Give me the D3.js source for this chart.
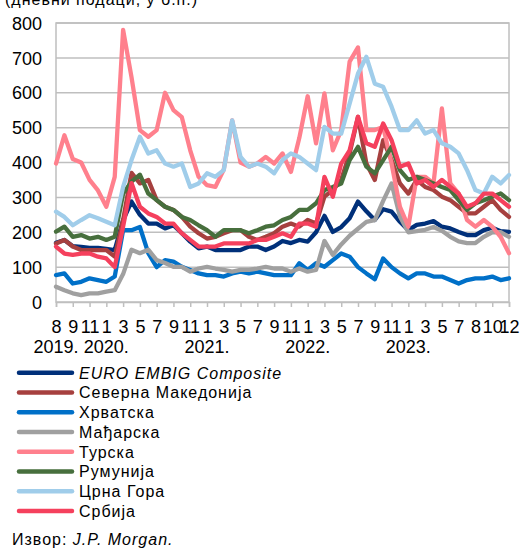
<!DOCTYPE html>
<html>
<head>
<meta charset="utf-8">
<script src="https://cdn.jsdelivr.net/npm/d3@7/dist/d3.min.js"></script>
<style>
  html, body { margin: 0; padding: 0; background: #fff; }
  svg { display: block; font-family: "Liberation Sans", Arial, sans-serif; }
</style>
</head>
<body>
<svg id="chart" width="521" height="549"></svg>
<script>
// x positions are in axis-tick units (28 ticks, 0..27), sampled every half tick
const positions = d3.range(0, 27.001, 0.5);

const monthLabels = ["8","9","11","1","3","5","7","9","11","1","3","5","7","9","11","1","3","5","7","9","11","1","3","5","7","8","10","12"];
const yearLabels = ["2019.", "2020.", "2021.", "2022.", "2023."];
const yearTickIndex = [0, 3, 9, 15, 21];
const yTicks = [0, 100, 200, 300, 400, 500, 600, 700, 800];

const seriesNames = ["EURO EMBIG Composite", "Северна Македонија", "Хрватска", "Мађарска", "Турска", "Румунија", "Црна Гора", "Србија"];
const seriesColors = ["#00307A", "#A6403F", "#0070C8", "#A0A0A0", "#FF808D", "#476F3D", "#A0CDEA", "#F5405D"];

const embig = [170,178,160,158,155,155,152,149, 235,288,250,225,225,211,
  220,197,173,154,159,149,149,149,149,159,159,149,159,175,
  169,178,173,200,247,201,215,240,288,260,235,266,259,
  230,206,221,225,232,216,211,201,192,192,206,213,203,201];
const macedonia = [168,178,159,149,149,149,149,130, 235,370,340,350,292,273,
  264,244,216,197,182,187,197,206,206,187,178,187,197,216,
  225,216,235,225,302,321,350,426,531,397,350,464,407,
  340,311,350,330,321,302,292,273,254,254,273,292,264,244];
const croatia = [77,82,53,58,68,63,58,73, 206,206,215,140,100,120,
  116,101,92,82,77,77,73,82,87,82,87,82,77,77,
  77,111,92,111,101,120,139,130,100,82,65,125,100,
  82,68,82,82,73,73,63,53,63,68,68,73,63,68];
const hungary = [44,34,25,20,25,25,30,34, 80,150,140,150,120,112,
  101,101,87,96,101,96,92,87,92,92,96,101,96,96,
  87,96,87,92,175,135,165,190,210,230,235,290,340,
  245,200,203,207,215,204,187,174,169,169,187,200,200,187];
const turkey = [397,478,410,400,350,320,273,359, 780,645,493,474,493,600,
  550,530,435,359,335,330,380,521,400,388,397,416,397,426,
  373,470,590,455,598,435,493,689,730,493,493,502,397,
  273,216,359,359,340,555,340,311,235,216,235,216,187,140];
const romania = [202,216,187,192,182,187,178,187, 311,345,365,311,292,273,
  264,244,235,220,206,187,206,206,206,197,206,216,220,235,
  244,264,264,283,321,330,340,407,445,388,369,407,445,
  378,350,359,350,340,330,321,292,264,283,292,302,311,292];
const montenegro = [259,244,220,235,249,240,230,220, 330,407,474,426,435,397,
  388,397,330,340,369,359,378,521,416,388,397,388,369,407,
  426,416,397,378,502,483,483,569,655,703,626,617,560,
  493,493,521,483,493,455,445,426,378,321,311,359,340,364];
const serbia = [159,139,135,139,139,130,125,100, 216,341,273,254,244,225,
  225,197,178,159,159,159,168,168,168,168,178,178,187,197,
  187,225,225,216,359,302,397,435,531,455,445,512,464,
  388,397,340,350,330,350,330,311,273,283,311,311,292,273];

const seriesValues = [embig, macedonia, croatia, hungary, turkey, romania, montenegro, serbia];

const svg = d3.select("#chart");
const W = 521, H = 549;
const plot = { left: 56, right: 509, top: 23, bottom: 302 };
const gridColor = "#BFBFBF";

const x = d3.scaleLinear().domain([0, monthLabels.length - 1]).range([plot.left, plot.right]);
const y = d3.scaleLinear().domain([0, 800]).range([plot.bottom, plot.top]);

// title (clipped at top)
svg.append("text")
  .attr("x", 5).attr("y", 5)
  .attr("font-size", 16).attr("letter-spacing", 1).attr("fill", "#000")
  .text("(дневни подаци, у б.п.)");

// gridlines
svg.append("g").selectAll("line").data(yTicks.slice(1)).join("line")
  .attr("x1", plot.left).attr("x2", plot.right)
  .attr("y1", d => y(d)).attr("y2", d => y(d))
  .attr("stroke", gridColor).attr("stroke-width", 1.5);

// frame
svg.append("rect")
  .attr("x", plot.left).attr("y", plot.top)
  .attr("width", plot.right - plot.left).attr("height", plot.bottom - plot.top)
  .attr("fill", "none").attr("stroke", gridColor).attr("stroke-width", 1.5);

// y axis labels
const yAxis = d3.axisLeft(y).tickValues(yTicks).tickSize(0).tickPadding(14).tickFormat(d3.format("d"));
const gy = svg.append("g").attr("transform", `translate(${plot.left},0)`).call(yAxis);
gy.select(".domain").remove();
gy.selectAll("text").attr("font-size", 18).attr("fill", "#000")
  .attr("font-family", "Liberation Sans, Arial, sans-serif").attr("dy", "0.34em");

// x axis
const xAxis = d3.axisBottom(x).tickValues(d3.range(monthLabels.length)).tickSize(5).tickPadding(13)
  .tickFormat(i => monthLabels[i]);
const gx = svg.append("g").attr("transform", `translate(0,${plot.bottom})`).call(xAxis);
gx.select(".domain").attr("stroke", gridColor).attr("stroke-width", 1.5);
gx.selectAll(".tick line").attr("stroke", gridColor).attr("stroke-width", 1.5);
gx.selectAll("text").attr("font-size", 18).attr("fill", "#000")
  .attr("font-family", "Liberation Sans, Arial, sans-serif");

// year labels
svg.append("g").selectAll("text").data(yearLabels).join("text")
  .attr("x", (d, i) => x(yearTickIndex[i]))
  .attr("y", 353)
  .attr("text-anchor", "middle")
  .attr("font-size", 18).attr("fill", "#000")
  .text(d => d);

// lines
const line = d3.line().x((d, i) => x(positions[i])).y(d => y(d)).curve(d3.curveLinear);
svg.append("g").selectAll("path").data(seriesValues).join("path")
  .attr("d", d => line(d))
  .attr("fill", "none")
  .attr("stroke", (d, i) => seriesColors[i])
  .attr("stroke-width", 4.3)
  .attr("stroke-linejoin", "round")
  .attr("stroke-linecap", "round");

// legend
const lg = svg.append("g").selectAll("g").data(seriesNames).join("g")
  .attr("transform", (d, i) => `translate(0,${372.7 + i * 19.75})`);
lg.append("line")
  .attr("x1", 19).attr("x2", 72).attr("y1", 0).attr("y2", 0)
  .attr("stroke", (d, i) => seriesColors[i]).attr("stroke-width", 4.5)
  .attr("stroke-linecap", "round");
lg.append("text")
  .attr("x", 79).attr("y", 6)
  .attr("font-size", 16).attr("letter-spacing", 1).attr("fill", "#000")
  .attr("font-style", (d, i) => i === 0 ? "italic" : "normal")
  .text(d => d);

// source
const src = svg.append("text").attr("x", 12).attr("y", 545)
  .attr("font-size", 16).attr("letter-spacing", 1).attr("fill", "#000");
src.append("tspan").text("Извор: ");
src.append("tspan").attr("font-style", "italic").text("J.P. Morgan.");
</script>
</body>
</html>
